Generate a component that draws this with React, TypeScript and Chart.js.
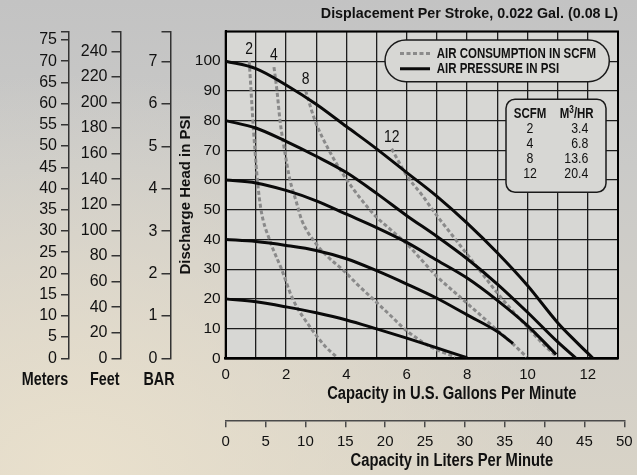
import React, { useEffect, useRef } from "react";
import { Chart, registerables } from "chart.js";

Chart.register(...registerables);

const FAMILY = "'Liberation Sans', Arial, Helvetica, sans-serif";
const PLOT_BG = "#d7d7d4";
const INK = "#111111";
const NARROW_X = 0.82;

// ---- texts ----
const chartTitle = "Displacement Per Stroke, 0.022 Gal. (0.08 L)";
const xTitle = "Capacity in U.S. Gallons Per Minute";
const litersTitle = "Capacity in Liters Per Minute";
const yTitle = "Discharge Head in PSI";
const legendLabels = ["AIR CONSUMPTION IN SCFM", "AIR PRESSURE IN PSI"];
const leftAxisNames = ["Meters", "Feet", "BAR"];

// ---- tick labels ----
const gpmTicks = [0, 2, 4, 6, 8, 10, 12];
const psiTicks = [0, 10, 20, 30, 40, 50, 60, 70, 80, 90, 100];
const literTicks = [0, 5, 10, 15, 20, 25, 30, 35, 40, 45, 50];
const meterTicks = [0, 5, 10, 15, 20, 25, 30, 35, 40, 45, 50, 55, 60, 65, 70, 75];
const feetTicks = [0, 20, 40, 60, 80, 100, 120, 140, 160, 180, 200, 220, 240];
const barTicks = [0, 1, 2, 3, 4, 5, 6, 7];

// ---- SCFM table ----
const tableScfm = ["2", "4", "8", "12"];
const tableM3hr = ["3.4", "6.8", "13.6", "20.4"];

// ---- air pressure curves (solid): capacity GPM vs head PSI ----
const psi100Gpm = [0, 1, 2, 3, 4, 5, 6, 7, 8, 9, 10, 11, 11.6, 12.17];
const psi100Head = [100, 97.5, 92, 85.5, 78, 70.5, 62.5, 54.5, 45.5, 35.5, 24.5, 12, 5.7, 0];
const psi80Gpm = [0, 1, 2, 3, 4, 5, 6, 7, 8, 9, 10, 11, 11.61];
const psi80Head = [80, 77.5, 73, 68, 62.5, 55.5, 48, 41, 33.5, 25, 15.5, 5.5, 0];
const psi60Gpm = [0, 1, 2, 3, 4, 5, 6, 7, 8, 9, 10, 10.95];
const psi60Head = [60, 59, 56.5, 53, 48.5, 44, 39, 33, 27, 19.5, 11, 1.3];
const psi40Gpm = [0, 1, 2, 3, 4, 5, 6, 7, 8, 9, 9.52];
const psi40Head = [40, 39.3, 38, 36.3, 33.5, 29.5, 25, 20.2, 14.6, 9, 5];
const psi20Gpm = [0, 1, 2, 3, 4, 5, 6, 7, 7.5, 8];
const psi20Head = [20, 19, 17.3, 15.3, 12.9, 9.9, 6.8, 3.5, 1.8, 0.2];

// ---- air consumption curves (dashed) ----
const scfmCurveLabels = ["2", "4", "8", "12"];
const scfm2Gpm = [0.78, 0.84, 0.9, 0.97, 1.05, 1.17, 1.45, 1.85, 2.22, 2.87, 3.3, 3.67];
const scfm2Head = [100, 90, 80, 70, 60, 50, 40, 30, 20, 9.5, 4, 0.5];
const scfm4Gpm = [1.6, 1.7, 1.8, 1.95, 2.13, 2.33, 2.52, 2.96, 3.4, 3.9, 4.4, 4.92, 5.45, 5.97, 6.4, 6.8, 7.2, 7.6];
const scfm4Head = [98, 90, 80, 70, 60, 53, 46.5, 39, 34, 29.6, 24.5, 19.6, 14.5, 9.5, 6.3, 3.8, 2, 0.5];
const scfm8Gpm = [2.65, 2.96, 3.45, 3.95, 4.45, 4.95, 5.5, 6, 6.5, 7, 7.5, 8, 8.5, 9, 9.5, 9.97];
const scfm8Head = [90, 80, 69.5, 61, 54, 48, 43, 38.5, 33, 27.5, 23, 18.5, 14, 9.4, 5, 0.5];
const scfm12Gpm = [5.5, 6, 6.5, 7, 7.5, 8, 8.5, 9, 9.5, 10, 10.5, 10.97];
const scfm12Head = [70.5, 61.5, 55, 48, 41.5, 35, 28.5, 22, 16, 10.5, 5, 0.5];

const pressureSeries: [number[], number[]][] = [
  [psi100Gpm, psi100Head],
  [psi80Gpm, psi80Head],
  [psi60Gpm, psi60Head],
  [psi40Gpm, psi40Head],
  [psi20Gpm, psi20Head],
];
const pressureNames = ["100 PSI", "80 PSI", "60 PSI", "40 PSI", "20 PSI"];
const airSeries: [number[], number[]][] = [
  [scfm2Gpm, scfm2Head],
  [scfm4Gpm, scfm4Head],
  [scfm8Gpm, scfm8Head],
  [scfm12Gpm, scfm12Head],
];

// ---- scale ranges / unit conversions ----
const GPM_MAX = 13;
const PSI_MAX = 110;
const LPM_PER_GPM = 3.78541;
const M_PER_PSI = 0.7;
const FT_PER_PSI = 2.323;
const PSI_PER_BAR = 14.27;

const toPts = (xs: number[], ys: number[]) => xs.map((x, i) => ({ x, y: ys[i] }));

const AIR_STYLE = { borderColor: "#8a8a8a", borderWidth: 3, borderDash: [4, 2.5] };
const PRESSURE_STYLE = { borderColor: "#0a0a0a", borderWidth: 3, borderDash: [] as number[] };

function font(size: number, bold = false) {
  return `${bold ? "bold " : ""}${size}px ${FAMILY}`;
}

// condensed text (the original uses a narrow sans face)
function narrowText(ctx: any, text: string, x: number, y: number, size: number, bold: boolean, align: string) {
  ctx.save();
  ctx.font = font(size, bold);
  ctx.textAlign = align;
  ctx.textBaseline = "middle";
  ctx.translate(x, y);
  ctx.scale(NARROW_X, 1);
  ctx.fillText(text, 0, 0);
  ctx.restore();
}
function narrowWidth(ctx: any, text: string, size: number, bold: boolean) {
  ctx.save();
  ctx.font = font(size, bold);
  const w = ctx.measureText(text).width * NARROW_X;
  ctx.restore();
  return w;
}

const bgPlugin = {
  id: "plotBg",
  beforeDraw(chart: any) {
    const { ctx, chartArea: a } = chart;
    ctx.save();
    ctx.fillStyle = PLOT_BG;
    ctx.fillRect(a.left, a.top, a.right - a.left, a.bottom - a.top);
    ctx.restore();
  },
  beforeDatasetsDraw(chart: any) {
    const { ctx, chartArea: a } = chart;
    ctx.save();
    ctx.strokeStyle = "#000";
    ctx.lineWidth = 2;
    ctx.strokeRect(a.left, a.top, a.right - a.left, a.bottom - a.top);
    ctx.restore();
  },
};

const literAxisPlugin = {
  id: "literAxis",
  afterLayout(chart: any) {
    const x = chart.scales.x;
    const l = chart.scales.lpm;
    l.left = x.getPixelForValue(0);
    l.right = x.getPixelForValue(l.max / LPM_PER_GPM);
    l.width = l.right - l.left;
    l.configure();
  },
};

const overlayPlugin = {
  id: "overlay",
  afterDatasetsDraw(chart: any) {
    const { ctx, chartArea: a, scales } = chart;
    const x = scales.x;
    const y = scales.y;
    ctx.save();
    ctx.fillStyle = INK;

    // curve labels at the top of each air consumption curve
    airSeries.forEach(([gx, hy], i) => {
      narrowText(ctx, scfmCurveLabels[i], x.getPixelForValue(gx[0]), y.getPixelForValue(hy[0]) - 11.5, 17, false, "center");
    });

    // legend box
    const lw = 224.3;
    const lh = 41.7;
    const lx = a.right - 8.7 - lw;
    const ly = a.top + 8.5;
    ctx.beginPath();
    ctx.roundRect(lx, ly, lw, lh, lh / 2);
    ctx.fillStyle = PLOT_BG;
    ctx.fill();
    ctx.lineWidth = 1.5;
    ctx.strokeStyle = "#1a1a1a";
    ctx.stroke();
    const styles = [AIR_STYLE, PRESSURE_STYLE];
    const rowsY = [ly + 13.5, ly + 28.8];
    styles.forEach((st, i) => {
      ctx.beginPath();
      ctx.setLineDash(st.borderDash);
      ctx.strokeStyle = st.borderColor;
      ctx.lineWidth = st.borderWidth;
      ctx.moveTo(lx + 15, rowsY[i]);
      ctx.lineTo(lx + 45, rowsY[i]);
      ctx.stroke();
      ctx.setLineDash([]);
      ctx.fillStyle = INK;
      narrowText(ctx, legendLabels[i], lx + 51.7, rowsY[i] + 0.5, 14, true, "left");
    });

    // SCFM / M3/HR table
    const tw = 100;
    const th = 93;
    const tx = a.right - 12 - tw;
    const ty = a.top + 67.8;
    ctx.beginPath();
    ctx.roundRect(tx, ty, tw, th, 9);
    ctx.fillStyle = PLOT_BG;
    ctx.fill();
    ctx.lineWidth = 1.5;
    ctx.strokeStyle = "#1a1a1a";
    ctx.stroke();
    ctx.fillStyle = INK;
    const col1 = tx + 24;
    const col2c = tx + 70.7;
    const hy = ty + 15;
    narrowText(ctx, "SCFM", col1, hy, 14, true, "center");
    // M³/HR header
    const mW = narrowWidth(ctx, "M", 14, true);
    const rW = narrowWidth(ctx, "/HR", 14, true);
    const sW = narrowWidth(ctx, "3", 10, true);
    const start = col2c - (mW + sW + rW) / 2;
    narrowText(ctx, "M", start, hy, 14, true, "left");
    narrowText(ctx, "3", start + mW, hy - 4.5, 10, true, "left");
    narrowText(ctx, "/HR", start + mW + sW, hy, 14, true, "left");
    tableScfm.forEach((s, i) => {
      const ry = ty + 29.5 + i * 15;
      narrowText(ctx, s, col1, ry, 15, false, "center");
      narrowText(ctx, tableM3hr[i], tx + 82.3, ry, 15, false, "right");
    });
    ctx.restore();
  },
  afterDraw(chart: any) {
    const { ctx, chartArea: a, scales } = chart;
    ctx.save();
    ctx.fillStyle = INK;
    const mid = (a.left + a.right) / 2 + 30;
    narrowText(ctx, xTitle, mid, scales.x.bottom - 25.8, 18, true, "center");
    narrowText(ctx, litersTitle, mid, scales.lpm.bottom - 13.5, 18, true, "center");
    const leftScales = [scales.meters, scales.feet, scales.bar];
    const offsets = [24, 15.8, 11.5];
    leftScales.forEach((s: any, i: number) => {
      narrowText(ctx, leftAxisNames[i], s.right - offsets[i], a.bottom + 21.7, 17.5, true, "center");
    });
    ctx.restore();
  },
};

function leftAxis(ticks: number[], max: number, weight: number, width: number, tickLength: number) {
  return {
    type: "linear" as const,
    position: "left" as const,
    min: 0,
    max,
    weight,
    afterBuildTicks: (s: any) => {
      s.ticks = [...ticks, s.max].map((v) => ({ value: v }));
    },
    afterFit: (s: any) => {
      s.width = width;
    },
    ticks: {
      autoSkip: false,
      padding: 4,
      color: INK,
      font: { family: FAMILY, size: 16 },
      callback: (v: number) => (ticks.includes(v) ? String(v) : ""),
    },
    grid: { drawOnChartArea: false, drawTicks: true, tickLength, color: "#333", lineWidth: 1.5 },
    border: { display: true, color: "#333", width: 1.5 },
  };
}

export default function App() {
  const ref = useRef<HTMLCanvasElement>(null);

  useEffect(() => {
    const canvas = ref.current;
    if (!canvas) return;

    const datasets: any[] = [
      ...pressureSeries.map(([gx, hy], i) => ({
        label: pressureNames[i],
        data: toPts(gx, hy),
        ...PRESSURE_STYLE,
        pointRadius: 0,
        cubicInterpolationMode: "monotone",
        fill: false,
      })),
      ...airSeries.map(([gx, hy], i) => ({
        label: `${scfmCurveLabels[i]} SCFM`,
        data: toPts(gx, hy),
        ...AIR_STYLE,
        borderCapStyle: "butt",
        pointRadius: 0,
        cubicInterpolationMode: "monotone",
        fill: false,
      })),
    ];

    const chart = new Chart(canvas, {
      type: "line",
      data: { datasets },
      options: {
        responsive: false,
        animation: false,
        devicePixelRatio: 1,
        layout: { padding: { left: 0, right: 19, top: 0, bottom: 0 } },
        plugins: {
          legend: { display: false },
          tooltip: { enabled: false },
          title: {
            display: true,
            text: chartTitle,
            align: "end",
            color: INK,
            font: { family: FAMILY, size: 14.3, weight: "bold", lineHeight: 1.2 },
            padding: { top: 5, bottom: 9.3 },
          },
        },
        scales: {
          x: {
            type: "linear",
            position: "bottom",
            min: 0,
            max: GPM_MAX,
            weight: 0,
            afterFit: (s: any) => {
              s.height = 62;
            },
            ticks: {
              stepSize: 1,
              autoSkip: false,
              maxRotation: 0,
              padding: 7.7,
              color: INK,
              font: { family: FAMILY, size: 15 },
              callback: (v: number) => (gpmTicks.includes(v) ? String(v) : ""),
            },
            grid: { color: "#1c1c1c", lineWidth: 1.3, drawTicks: false },
            border: { display: true, color: "#000", width: 2.5 },
          },
          lpm: {
            type: "linear",
            position: "bottom",
            min: 0,
            max: 50,
            weight: 1,
            afterFit: (s: any) => {
              s.height = 54.7;
            },
            afterBuildTicks: (s: any) => {
              s.ticks = literTicks.map((v) => ({ value: v }));
            },
            ticks: {
              autoSkip: false,
              maxRotation: 0,
              padding: 5.2,
              color: INK,
              font: { family: FAMILY, size: 15 },
            },
            grid: { drawOnChartArea: false, drawTicks: true, tickLength: 7, color: "#4a4a4a", lineWidth: 1.5 },
            border: { display: true, color: "#4a4a4a", width: 1.5 },
          },
          y: {
            type: "linear",
            position: "left",
            min: 0,
            max: PSI_MAX,
            weight: 0,
            afterFit: (s: any) => {
              s.width = 55.2;
            },
            ticks: {
              stepSize: 10,
              autoSkip: false,
              padding: 5,
              color: INK,
              font: { family: FAMILY, size: 15.5 },
              callback: (v: number) => (psiTicks.includes(v) ? String(v) : ""),
            },
            grid: { color: "#1c1c1c", lineWidth: 1.3, drawTicks: false },
            border: { display: true, color: "#000", width: 2 },
            title: {
              display: true,
              text: yTitle,
              color: INK,
              font: { family: FAMILY, size: 15, weight: "bold", lineHeight: 1.2 },
              padding: { top: 6.3, bottom: 0 },
            },
          },
          bar: leftAxis(barTicks, PSI_MAX / PSI_PER_BAR, 1, 50, 9),
          feet: leftAxis(feetTicks, PSI_MAX * FT_PER_PSI, 2, 51.5, 9),
          meters: leftAxis(meterTicks, PSI_MAX * M_PER_PSI, 3, 69, 8),
        },
      } as any,
      plugins: [bgPlugin, literAxisPlugin, overlayPlugin],
    });

    return () => chart.destroy();
  }, []);

  return (
    <div
      style={{
        position: "fixed",
        left: 0,
        top: 0,
        width: 637,
        height: 475,
        background:
          "radial-gradient(ellipse at 12% 100%, rgba(234,225,205,0.95) 0%, rgba(234,225,205,0) 60%), linear-gradient(180deg, #c3c3c3 0%, #cacac8 35%, #d2cfc8 70%, #d8d3c7 100%)",
      }}
    >
      <canvas ref={ref} width={637} height={475} style={{ display: "block", width: 637, height: 475 }} />
    </div>
  );
}
